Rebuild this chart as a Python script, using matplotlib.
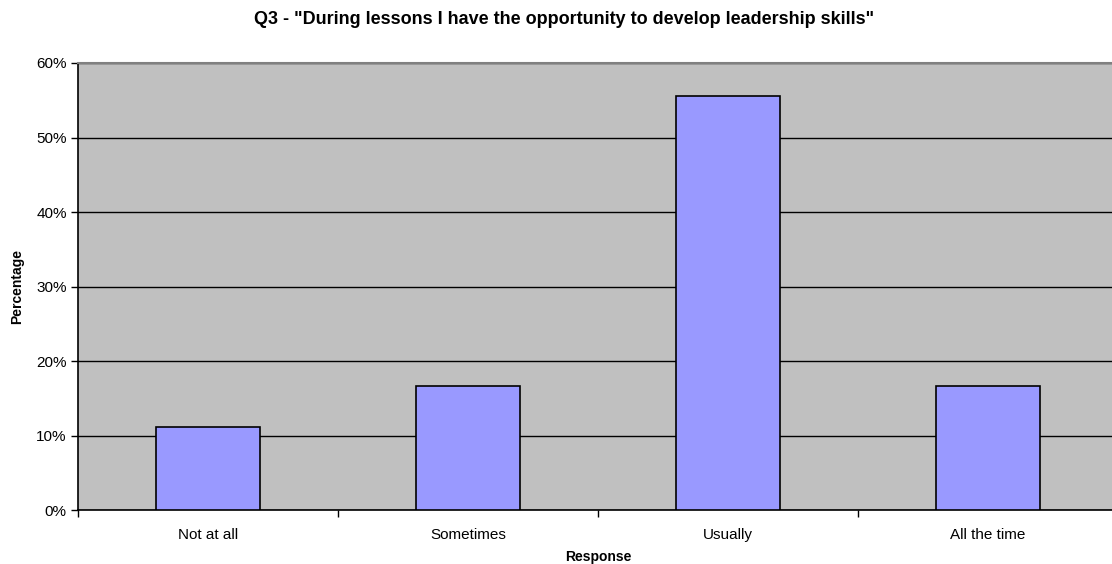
import matplotlib
matplotlib.use('Agg')
import matplotlib.pyplot as plt
from matplotlib.ticker import PercentFormatter, FixedLocator

plt.rcParams['font.family'] = ['Liberation Sans', 'DejaVu Sans']

title = 'Q3 - "During lessons I have the opportunity to develop leadership skills"'
responses = ['Not at all', 'Sometimes', 'Usually', 'All the time']
percent = [11.1, 16.7, 55.6, 16.7]
yticks = [0, 10, 20, 30, 40, 50, 60]

fig = plt.figure(figsize=(11.12, 5.64), dpi=100)
# plot area runs slightly past the right edge of the figure
ax = fig.add_axes([0.0701, 0.0957, 0.9353, 0.7926])
ax.set_facecolor('#c0c0c0')

x = range(len(responses))
ax.bar(x, percent, width=0.4, color='#9999ff', edgecolor='black', linewidth=1.2, zorder=3)

ax.set_xlim(-0.5, len(responses) - 0.5)
ax.set_ylim(0, 60)
ax.set_yticks(yticks)
ax.yaxis.set_major_formatter(PercentFormatter(decimals=0))
ax.yaxis.grid(True, color='black', linewidth=1, zorder=1)

ax.set_xticks(list(x))
ax.set_xticklabels(responses)
ax.xaxis.set_minor_locator(FixedLocator([i + 0.5 for i in range(-1, len(responses))]))
ax.tick_params(axis='x', which='major', length=0, pad=13, labelsize=11)
ax.tick_params(axis='x', which='minor', length=5, width=1, direction='out')
ax.tick_params(axis='y', length=5, width=1, direction='out', labelsize=11, pad=3)

ax.spines['top'].set_color('#808080')
ax.spines['top'].set_linewidth(1.5)
ax.spines['right'].set_visible(False)
for side in ('left', 'bottom'):
    ax.spines[side].set_color('black')
    ax.spines[side].set_linewidth(1.2)

ax.set_xlabel('Response', fontsize=10, fontweight='bold', labelpad=6)
ax.set_ylabel('Percentage', fontsize=10, fontweight='bold', labelpad=9)
fig.text(0.507, 0.966, title, ha='center', va='center', fontsize=13, fontweight='bold')

fig.savefig('out.png', dpi=100)
